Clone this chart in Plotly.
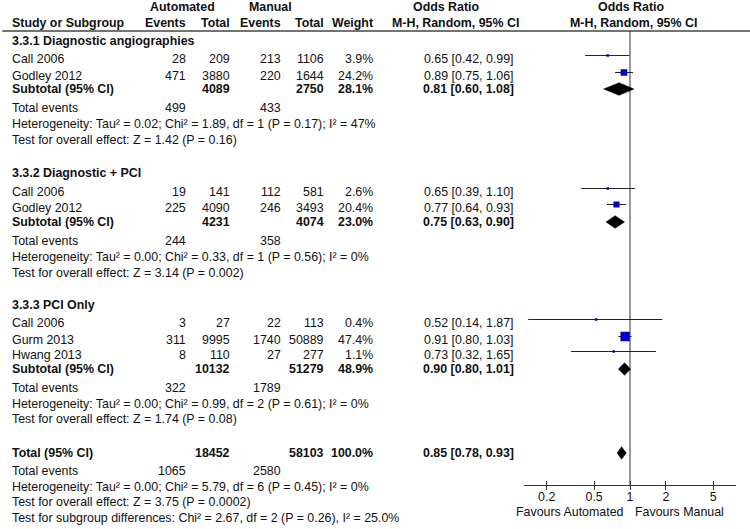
import math
import plotly.graph_objects as go

# ---------------- data ----------------
group_names = ["3.3.1 Diagnostic angiographies", "3.3.2 Diagnostic + PCI", "3.3.3 PCI Only"]
study_names = [["Call 2006", "Godley 2012"], ["Call 2006", "Godley 2012"], ["Call 2006", "Gurm 2013", "Hwang 2013"]]
auto_events = [[28, 471], [19, 225], [3, 311, 8]]
auto_total = [[209, 3880], [141, 4090], [27, 9995, 110]]
man_events = [[213, 220], [112, 246], [22, 1740, 27]]
man_total = [[1106, 1644], [581, 3493], [113, 50889, 277]]
weights = [[3.9, 24.2], [2.6, 20.4], [0.4, 47.4, 1.1]]
or_est = [[0.65, 0.89], [0.65, 0.77], [0.52, 0.91, 0.73]]
or_lo = [[0.42, 0.75], [0.39, 0.64], [0.14, 0.80, 0.32]]
or_hi = [[0.99, 1.06], [1.10, 0.93], [1.87, 1.03, 1.65]]

sub_auto_total = [4089, 4231, 10132]
sub_man_total = [2750, 4074, 51279]
sub_weight = [28.1, 23.0, 48.9]
sub_est = [0.81, 0.75, 0.90]
sub_lo = [0.60, 0.63, 0.80]
sub_hi = [1.08, 0.90, 1.01]
sub_auto_events = [499, 244, 322]
sub_man_events = [433, 358, 1789]
sub_het = [
    "Heterogeneity: Tau² = 0.02; Chi² = 1.89, df = 1 (P = 0.17); I² = 47%",
    "Heterogeneity: Tau² = 0.00; Chi² = 0.33, df = 1 (P = 0.56); I² = 0%",
    "Heterogeneity: Tau² = 0.00; Chi² = 0.99, df = 2 (P = 0.61); I² = 0%",
]
sub_z = [
    "Test for overall effect: Z = 1.42 (P = 0.16)",
    "Test for overall effect: Z = 3.14 (P = 0.002)",
    "Test for overall effect: Z = 1.74 (P = 0.08)",
]

total_auto_total = 18452
total_man_total = 58103
total_weight = 100.0
total_est = 0.85
total_lo = 0.78
total_hi = 0.93
total_auto_events = 1065
total_man_events = 2580
total_het = "Heterogeneity: Tau² = 0.00; Chi² = 5.79, df = 6 (P = 0.45); I² = 0%"
total_z = "Test for overall effect: Z = 3.75 (P = 0.0002)"
subgroup_diff = "Test for subgroup differences: Chi² = 2.67, df = 2 (P = 0.26), I² = 25.0%"

tick_vals = [0.2, 0.5, 1, 2, 5]
tick_labels = ["0.2", "0.5", "1", "2", "5"]
favours_left = "Favours Automated"
favours_right = "Favours Manual"

# ---------------- layout geometry (pixels) ----------------
W, H = 750, 529
FONT = "Liberation Sans, Arial, Helvetica, sans-serif"
FS = 12.4
TXT = "#111111"
BLUE = "#0000C8"

X_NAME = 12
X_AE, X_AT, X_ME, X_MT, X_W, X_OR = 186, 230, 281, 324, 373, 514

Y_HEAD1, Y_HEAD2, Y_RULE = 7, 23, 31
sec_layout = [
    dict(title=41, studies=[59, 76], sub=89, te=108, het=124, z=140),
    dict(title=173, studies=[192, 208], sub=222, te=241, het=257, z=273),
    dict(title=305, studies=[323, 340, 355], sub=369, te=388, het=404, z=419),
]
Y_TOT, Y_TOT_TE, Y_TOT_HET, Y_TOT_Z, Y_DIFF = 453, 471, 487, 502, 518
STUDY_DY = -3.5     # graphics sit a little above the text centre
DIAMOND_H = 6.3
Y_AXIS = 485
Y_FAV = 512

PX_PER_DEC = 119.2
X_ONE = 630
LOG_HALF = 0.893

annotations = []


def txt(x, y, s, anchor="right", bold=False):
    annotations.append(dict(
        x=x, y=y, xref="x", yref="y", text=s, showarrow=False,
        xanchor=anchor, yanchor="middle", borderpad=0, borderwidth=0,
        font=dict(family=FONT, size=FS, color=TXT, weight=700 if bold else 400),
    ))


def fmt_or(e, lo, hi):
    return f"{e:.2f} [{lo:.2f}, {hi:.2f}]"


# header
txt(182, Y_HEAD1, "Automated", "center", True)
txt(270, Y_HEAD1, "Manual", "center", True)
txt(446, Y_HEAD1, "Odds Ratio", "center", True)
txt(631, Y_HEAD1, "Odds Ratio", "center", True)
txt(X_NAME, Y_HEAD2, "Study or Subgroup", "left", True)
txt(X_AE, Y_HEAD2, "Events", "right", True)
txt(X_AT, Y_HEAD2, "Total", "right", True)
txt(X_ME, Y_HEAD2, "Events", "right", True)
txt(X_MT, Y_HEAD2, "Total", "right", True)
txt(X_W, Y_HEAD2, "Weight", "right", True)
txt(455, Y_HEAD2, "M-H, Random, 95% CI", "center", True)
txt(633, Y_HEAD2, "M-H, Random, 95% CI", "center", True)

ci_x, ci_y = [], []
sq_x, sq_y, sq_s = [], [], []
dia_x, dia_y = [], []


def add_diamond(e, lo, hi, y):
    dia_x.extend([lo, e, hi, e, lo, None])
    dia_y.extend([y, y - DIAMOND_H, y, y + DIAMOND_H, y, None])


for g, lay in enumerate(sec_layout):
    txt(X_NAME, lay["title"], group_names[g], "left", True)
    for i, name in enumerate(study_names[g]):
        y = lay["studies"][i]
        txt(X_NAME, y, name, "left")
        txt(X_AE, y, str(auto_events[g][i]))
        txt(X_AT, y, str(auto_total[g][i]))
        txt(X_ME, y, str(man_events[g][i]))
        txt(X_MT, y, str(man_total[g][i]))
        txt(X_W, y, f"{weights[g][i]:.1f}%")
        txt(X_OR, y, fmt_or(or_est[g][i], or_lo[g][i], or_hi[g][i]))
        yg = y + STUDY_DY
        ci_x.extend([or_lo[g][i], or_hi[g][i], None])
        ci_y.extend([yg, yg, None])
        sq_x.append(or_est[g][i])
        sq_y.append(yg)
        sq_s.append(max(2.5, 1.35 * math.sqrt(weights[g][i])))
    y = lay["sub"]
    txt(X_NAME, y, "Subtotal (95% CI)", "left", True)
    txt(X_AT, y, str(sub_auto_total[g]), "right", True)
    txt(X_MT, y, str(sub_man_total[g]), "right", True)
    txt(X_W, y, f"{sub_weight[g]:.1f}%", "right", True)
    txt(X_OR, y, fmt_or(sub_est[g], sub_lo[g], sub_hi[g]), "right", True)
    add_diamond(sub_est[g], sub_lo[g], sub_hi[g], y)
    txt(X_NAME, lay["te"], "Total events", "left")
    txt(X_AE, lay["te"], str(sub_auto_events[g]))
    txt(X_ME, lay["te"], str(sub_man_events[g]))
    txt(X_NAME, lay["het"], sub_het[g], "left")
    txt(X_NAME, lay["z"], sub_z[g], "left")

txt(X_NAME, Y_TOT, "Total (95% CI)", "left", True)
txt(X_AT, Y_TOT, str(total_auto_total), "right", True)
txt(X_MT, Y_TOT, str(total_man_total), "right", True)
txt(X_W, Y_TOT, f"{total_weight:.1f}%", "right", True)
txt(X_OR, Y_TOT, fmt_or(total_est, total_lo, total_hi), "right", True)
add_diamond(total_est, total_lo, total_hi, Y_TOT)
txt(X_NAME, Y_TOT_TE, "Total events", "left")
txt(X_AE, Y_TOT_TE, str(total_auto_events))
txt(X_ME, Y_TOT_TE, str(total_man_events))
txt(X_NAME, Y_TOT_HET, total_het, "left")
txt(X_NAME, Y_TOT_Z, total_z, "left")
txt(X_NAME, Y_DIFF, subgroup_diff, "left")
txt(X_ONE - 6, Y_FAV, favours_left, "right")
txt(X_ONE + 5, Y_FAV, favours_right, "left")

fig = go.Figure()
# line of no effect
fig.add_trace(go.Scatter(x=[1, 1], y=[Y_RULE, Y_AXIS], mode="lines",
                         line=dict(color="#333333", width=1), xaxis="x2", yaxis="y",
                         hoverinfo="skip", showlegend=False))
fig.add_trace(go.Scatter(x=ci_x, y=ci_y, mode="lines", line=dict(color="#222222", width=1),
                         xaxis="x2", yaxis="y", hoverinfo="skip", showlegend=False))
fig.add_trace(go.Scatter(x=sq_x, y=sq_y, mode="markers",
                         marker=dict(symbol="square", size=sq_s, color=BLUE, opacity=1,
                                     line=dict(width=0)),
                         xaxis="x2", yaxis="y", hoverinfo="skip", showlegend=False))
fig.add_trace(go.Scatter(x=dia_x, y=dia_y, mode="lines", fill="toself", fillcolor="#000000",
                         line=dict(color="#000000", width=0.5),
                         xaxis="x2", yaxis="y", hoverinfo="skip", showlegend=False))
fig.add_trace(go.Scatter(x=[1], y=[-100], mode="markers", marker=dict(opacity=0),
                         xaxis="x3", yaxis="y", hoverinfo="skip", showlegend=False))

x0 = X_ONE - LOG_HALF * PX_PER_DEC
x1 = X_ONE + LOG_HALF * PX_PER_DEC
axis_common = dict(
    type="log", range=[-LOG_HALF, LOG_HALF], domain=[x0 / W, x1 / W],
    anchor="free", position=(H - Y_AXIS) / H, showgrid=False, zeroline=False,
    showline=True, linecolor="#333333", linewidth=1, fixedrange=True,
    tickvals=tick_vals, ticktext=tick_labels, tickcolor="#333333", tickwidth=1, ticklen=4,
)

fig.update_layout(
    width=W, height=H, margin=dict(l=0, r=0, t=0, b=0, autoexpand=False),
    paper_bgcolor="white", plot_bgcolor="white",
    xaxis=dict(range=[0, W], domain=[0, 1], visible=False, fixedrange=True),
    yaxis=dict(range=[H, 0], domain=[0, 1], visible=False, fixedrange=True),
    xaxis2=dict(**axis_common, ticks="outside", ticklabelstandoff=-4,
                tickfont=dict(family=FONT, size=FS, color=TXT)),
    xaxis3=dict(**axis_common, ticks="inside", overlaying="x2", showticklabels=False),
    annotations=annotations,
    shapes=[dict(type="line", xref="paper", yref="y", x0=0.003, x1=1, y0=Y_RULE, y1=Y_RULE,
                 line=dict(color="#444444", width=1.3))],
    showlegend=False,
    hovermode=False,
)

fig.write_html(
    "out.html",
    config={"displayModeBar": False, "staticPlot": True},
    post_script="document.body.style.margin='0px';document.body.style.padding='0px';",
)
